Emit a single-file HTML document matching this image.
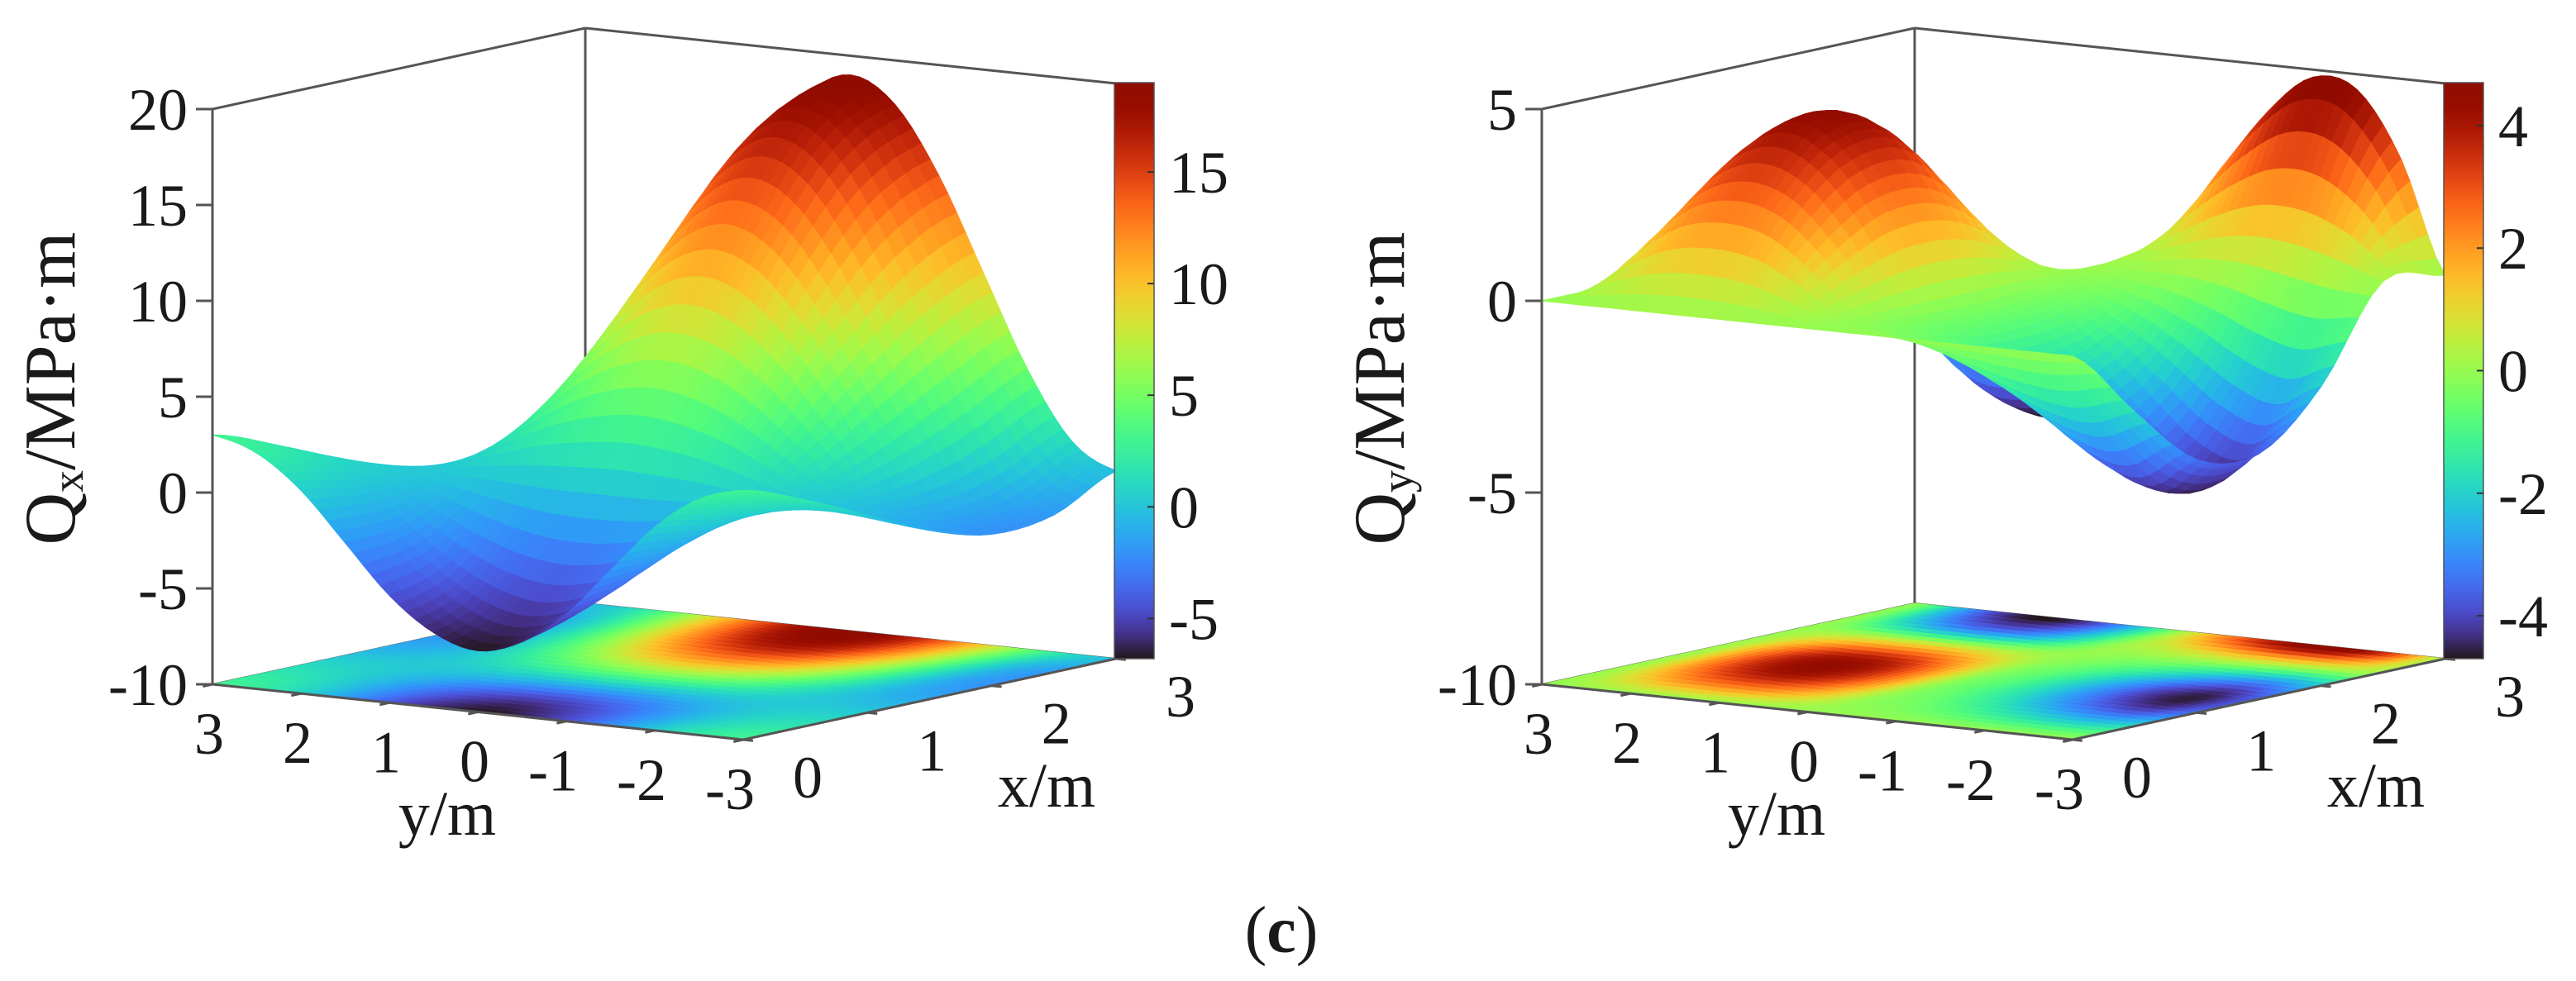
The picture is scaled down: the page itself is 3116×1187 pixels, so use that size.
<!DOCTYPE html>
<html><head><meta charset="utf-8"><title>Qx and Qy surface plots</title>
<style>
html,body{margin:0;padding:0;background:#fff;}
svg{display:block;}
text{font-family:"Liberation Serif",serif;fill:#1a1a1a;}
</style></head>
<body>
<svg id="fig" xmlns="http://www.w3.org/2000/svg" width="3116" height="1187" viewBox="0 0 3116 1187">
<rect x="0" y="0" width="3116" height="1187" fill="#fff"/>
<defs id="defs"></defs>
<g id="left-chart"></g>
<g id="right-chart"></g>
<text x="1550" y="1152" font-size="80" text-anchor="middle">(<tspan font-weight="bold">c</tspan>)</text>
</svg>
<script>
// ---- data: Qx (left) ----
const qxXs = [0, 0.5, 1, 1.5, 2, 2.5, 3];
const qxYs = [-3, -2.5, -2, -1.5, -1, -0.5, 0, 0.5, 1, 1.5, 2, 2.5, 3];
const qxRow0 = [3.0, 2.3, 0.6, -1.9, -4.4, -6.1, -6.8, -6.1, -4.4, -1.9, 0.6, 2.3, 3.0];
const qxRow1 = [1.8, 1.3, 0.1, -1.6, -3.3, -4.5, -5.0, -4.5, -3.3, -1.6, 0.1, 1.3, 1.8];
const qxRow2 = [0.3, 0.3, 0.2, 0.1, 0.0, -0.1, -0.1, -0.1, 0.0, 0.1, 0.2, 0.3, 0.3];
const qxRow3 = [-1.2, -0.7, 0.6, 2.5, 4.4, 5.7, 6.2, 5.7, 4.4, 2.5, 0.6, -0.7, -1.2];
const qxRow4 = [-2.1, -1.1, 1.6, 5.3, 8.9, 11.6, 12.6, 11.6, 8.9, 5.3, 1.6, -1.1, -2.1];
const qxRow5 = [-1.8, -0.5, 3.0, 7.8, 12.5, 16.0, 17.3, 16.0, 12.5, 7.8, 3.0, -0.5, -1.8];
const qxRow6 = [-0.2, 1.1, 4.6, 9.4, 14.2, 17.7, 19.0, 17.7, 14.2, 9.4, 4.6, 1.1, -0.2];
const qxValues = [qxRow0, qxRow1, qxRow2, qxRow3, qxRow4, qxRow5, qxRow6];
const qxZTicks = [20, 15, 10, 5, 0, -5, -10];
const qxZLim = [-10, 20];
const qxCLim = [-6.8, 19.0];
const qxCTicks = [15, 10, 5, 0, -5];

// ---- data: Qy (right) ----
const qyXs = [0, 0.5, 1, 1.5, 2, 2.5, 3];
const qyYs = [-3, -2.5, -2, -1.5, -1, -0.5, 0, 0.5, 1, 1.5, 2, 2.5, 3];
const qyRow0 = [0, 0, 0, 0, 0, 0, 0, 0, 0, 0, 0, 0, 0];
const qyRow1 = [-1.8, -2.2, -2.0, -1.5, -0.9, -0.4, 0, 1.3, 2.3, 2.6, 2.3, 1.3, 0];
const qyRow2 = [-3.4, -4.2, -3.8, -2.8, -1.7, -0.8, 0, 2.2, 3.7, 4.3, 3.7, 2.2, 0];
const qyRow3 = [-3.6, -4.5, -4.1, -3.0, -1.8, -0.8, 0, 2.0, 3.5, 4.0, 3.5, 2.0, 0];
const qyRow4 = [-2.2, -2.8, -2.4, -1.6, -0.9, -0.4, 0, 0.5, 0.9, 1.0, 0.9, 0.5, 0];
const qyRow5 = [0.2, 0.6, 0.9, 1.0, 0.8, 0.4, 0, -1.6, -2.8, -3.2, -2.8, -1.6, 0];
const qyRow6 = [0, 2.9, 4.6, 4.8, 3.8, 2.2, 0, -2.4, -4.2, -4.8, -4.2, -2.4, 0];
const qyValues = [qyRow0, qyRow1, qyRow2, qyRow3, qyRow4, qyRow5, qyRow6];
const qyZTicks = [5, 0, -5, -10];
const qyZLim = [-10, 5];
const qyCLim = [-4.7, 4.7];
const qyCTicks = [4, 2, 0, -2, -4];

const yTickLabels = [3, 2, 1, 0, -1, -2, -3];
const xTickLabels = [0, 1, 2, 3];

const NS = 'http://www.w3.org/2000/svg';

function turbo(t) {
  t = Math.max(0, Math.min(1, t));
  const r = 0.13572138 + t*(4.61539260 + t*(-42.66032258 + t*(132.13108234 + t*(-152.94239396 + t*59.28637943))));
  const g = 0.09140261 + t*(2.19418839 + t*(4.84296658 + t*(-14.18503333 + t*(4.27729857 + t*2.82956604))));
  const b = 0.10667330 + t*(12.64194608 + t*(-60.58204836 + t*(110.36276771 + t*(-89.90310912 + t*27.34824973))));
  const c = v => Math.round(255*Math.max(0, Math.min(1, v)));
  return 'rgb(' + c(r) + ',' + c(g) + ',' + c(b) + ')';
}
function cr(p0, p1, p2, p3, t) {
  return 0.5*((2*p1) + (-p0+p2)*t + (2*p0-5*p1+4*p2-p3)*t*t + (-p0+3*p1-3*p2+p3)*t*t*t);
}
function interp(grid, fi, fj) {
  const ni = grid.length, nj = grid[0].length;
  const i = Math.min(Math.floor(fi), ni-2), j = Math.min(Math.floor(fj), nj-2);
  const ti = fi - i, tj = fj - j;
  const g = (a, b) => grid[Math.max(0, Math.min(ni-1, a))][Math.max(0, Math.min(nj-1, b))];
  const rows = [];
  for (let a = -1; a <= 2; a++) rows.push(cr(g(i+a, j-1), g(i+a, j), g(i+a, j+1), g(i+a, j+2), tj));
  return cr(rows[0], rows[1], rows[2], rows[3], ti);
}
function mk(tag, attrs, parent) {
  const el = document.createElementNS(NS, tag);
  for (const k in attrs) el.setAttribute(k, attrs[k]);
  parent.appendChild(el);
  return el;
}

function drawChart(root, ox, xs, ys, vals, zTicks, zLim, cLim, cTicks, gradId, titleMain, titleSub, titleX) {
  const OY = 828, H = 696;
  const x0 = xs[0], x1 = xs[xs.length-1], y0 = ys[0], y1 = ys[ys.length-1];
  const zn = z => (z - zLim[0]) / (zLim[1] - zLim[0]);
  const proj = (x, y, z) => {
    const u = (x - x0) / (x1 - x0), v = (y1 - y) / (y1 - y0);
    return [ox + 642*v + 451*u, OY + 67*v - 98*u - zn(z)*H];
  };
  const col = v => turbo((v - cLim[0]) / (cLim[1] - cLim[0]));
  const line = (a, b, name, w, c) => {
    const l = mk('line', {x1: a[0].toFixed(1), y1: a[1].toFixed(1), x2: b[0].toFixed(1), y2: b[1].toFixed(1), stroke: c || '#555', 'stroke-width': w || 3}, root);
    
    
    return l;
  };
  const zb = zLim[0], zt = zLim[1];
  line(proj(x1, y1, zb), proj(x1, y1, zt), 'back-vertical-edge', 3);
  line(proj(x0, y1, zt), proj(x1, y1, zt), 'top-left-edge', 3);
  line(proj(x1, y1, zt), proj(x1, y0, zt), 'top-right-edge', 3);
  line(proj(x0, y1, zb), proj(x1, y1, zb), 'floor-back-left-edge', 2, '#666');
  line(proj(x1, y1, zb), proj(x1, y0, zb), 'floor-back-right-edge', 2, '#666');

  const S = 5;
  const NI = (xs.length-1)*S, NJ = (ys.length-1)*S;
  const pts = [];
  for (let i = 0; i <= NI; i++) {
    const row = [];
    for (let j = 0; j <= NJ; j++) {
      const fi = i/S, fj = j/S;
      const x = x0 + (x1-x0)*fi/(xs.length-1);
      const y = y0 + (y1-y0)*fj/(ys.length-1);
      row.push({x: x, y: y, v: interp(vals, fi, fj)});
    }
    pts.push(row);
  }
  const floor = mk('g', {}, root);
  
  
  for (let i = 0; i < NI; i++) for (let j = 0; j < NJ; j++) {
    const c = [pts[i][j], pts[i+1][j], pts[i+1][j+1], pts[i][j+1]];
    const avg = (c[0].v + c[1].v + c[2].v + c[3].v) / 4;
    const p = c.map(q => proj(q.x, q.y, zb).map(n => n.toFixed(1)).join(',')).join(' ');
    const poly = mk('polygon', {points: p, fill: col(avg), stroke: col(avg), 'stroke-width': 1}, floor);
    
    
  }
  const surf = mk('g', {}, root);
  
  
  const quads = [];
  for (let i = 0; i < NI; i++) for (let j = 0; j < NJ; j++) {
    const c = [pts[i][j], pts[i+1][j], pts[i+1][j+1], pts[i][j+1]];
    const avg = (c[0].v + c[1].v + c[2].v + c[3].v) / 4;
    const mx = (c[0].x + c[2].x) / 2, my = (c[0].y + c[2].y) / 2;
    const u = (mx - x0)/(x1 - x0), v = (y1 - my)/(y1 - y0);
    const depth = 0.818*u - 0.575*v;
    quads.push({c: c, avg: avg, d: depth});
  }
  quads.sort((a, b) => b.d - a.d);
  for (const q of quads) {
    const p = q.c.map(k => proj(k.x, k.y, k.v).map(n => n.toFixed(1)).join(',')).join(' ');
    const poly = mk('polygon', {points: p, fill: col(q.avg), stroke: col(q.avg), 'stroke-width': 1.2, 'stroke-linejoin': 'round'}, surf);
    
    
  }
  line(proj(x0, y1, zb), proj(x0, y1, zt), 'z-axis-line', 3);
  line(proj(x0, y1, zb), proj(x0, y0, zb), 'y-axis-line', 3);
  line(proj(x0, y0, zb), proj(x1, y0, zb), 'x-axis-line', 3);
  for (const t of zTicks) {
    const p = proj(x0, y1, t);
    line([p[0]-20, p[1]], p, 'z-tick', 3);
    const tx = mk('text', {x: (p[0]-30).toFixed(1), y: (p[1]+25).toFixed(1), 'font-size': 72, 'text-anchor': 'end'}, root);
    
    
    tx.textContent = String(t);
  }
  for (const t of yTickLabels) {
    const p = proj(x0, t, zb);
    line(p, [p[0]-11.7, p[1]+2.5], 'y-tick', 3);
    const tx = mk('text', {x: (p[0] + (t < 0 ? -16 : -4)).toFixed(1), y: (p[1]+84).toFixed(1), 'font-size': 72, 'text-anchor': 'middle'}, root);
    
    
    tx.textContent = String(t);
  }
  for (const t of xTickLabels) {
    const p = proj(t, y0, zb);
    line(p, [p[0]+11.9, p[1]+1.2], 'x-tick', 3);
    const tx = mk('text', {x: (p[0]+78).toFixed(1), y: (p[1]+70).toFixed(1), 'font-size': 72, 'text-anchor': 'middle'}, root);
    
    
    tx.textContent = String(t);
  }
  const o = proj(x0, y1, zb);
  const yt = mk('text', {x: (o[0]+284).toFixed(1), y: (o[1]+182).toFixed(1), 'font-size': 76, 'text-anchor': 'middle'}, root);
  
  
  yt.textContent = 'y/m';
  const xt = mk('text', {x: (o[0]+1009).toFixed(1), y: (o[1]+148).toFixed(1), 'font-size': 76, 'text-anchor': 'middle'}, root);
  
  
  xt.textContent = 'x/m';
  const zt2 = mk('text', {x: 0, y: 0, 'font-size': 88, 'text-anchor': 'middle', transform: 'translate(' + titleX + ',470) rotate(-90)'}, root);
  
  
  zt2.appendChild(document.createTextNode(titleMain));
  const sub = mk('tspan', {'font-size': 54, dy: 10}, zt2);
  sub.textContent = titleSub;
  const rest = mk('tspan', {dy: -10}, zt2);
  rest.textContent = '/MPa·m';

  const cx = ox + 1091, cTop = 100, cBot = 797;
  const defs = document.getElementById('defs');
  const grad = mk('linearGradient', {id: gradId, x1: 0, y1: 1, x2: 0, y2: 0}, defs);
  for (let k = 0; k <= 24; k++) {
    mk('stop', {offset: (k/24).toFixed(3), 'stop-color': turbo(k/24)}, grad);
  }
  const cb = mk('rect', {x: cx, y: cTop, width: 48, height: cBot - cTop, fill: 'url(#' + gradId + ')', stroke: '#555', 'stroke-width': 1.5}, root);
  
  
  for (const t of cTicks) {
    const y = cBot - (t - cLim[0]) / (cLim[1] - cLim[0]) * (cBot - cTop);
    line([cx+40, y], [cx+48, y], 'colorbar-tick', 2, '#333');
    const tx = mk('text', {x: cx + 66, y: (y+25).toFixed(1), 'font-size': 72, 'text-anchor': 'start'}, root);
    
    
    tx.textContent = String(t);
  }
}

drawChart(document.getElementById('left-chart'), 257, qxXs, qxYs, qxValues, qxZTicks, qxZLim, qxCLim, qxCTicks, 'grad-left', 'Q', 'x', 90);
drawChart(document.getElementById('right-chart'), 1865, qyXs, qyYs, qyValues, qyZTicks, qyZLim, qyCLim, qyCTicks, 'grad-right', 'Q', 'y', 1698);
</script>
</body></html>
